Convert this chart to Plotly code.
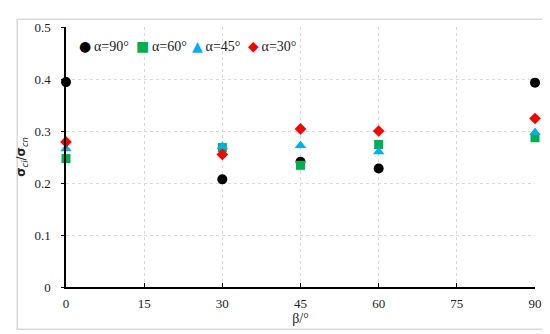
import plotly.graph_objects as go

beta = [0, 30, 45, 60, 90]
a90 = [0.394, 0.207, 0.241, 0.228, 0.393]
a60 = [0.247, 0.268, 0.234, 0.274, 0.287]
a45 = [0.266, 0.270, 0.272, 0.260, 0.297]
a30 = [0.279, 0.255, 0.304, 0.300, 0.324]

names = ["α=90°", "α=60°", "α=45°", "α=30°"]
series = [a90, a60, a45, a30]
colors = ["#000000", "#00b050", "#00b0f0", "#ff0000"]
symbols = ["circle", "square", "triangle-up", "diamond"]
glyphs = ["●", "■", "▲", "◆"]
sizes = [10, 9, 10, 9]

SERIF = "Times New Roman"

fig = go.Figure()
for n, s, c, m, sz in zip(names, series, colors, symbols, sizes):
    fig.add_trace(go.Scatter(x=beta, y=s, mode="markers", name=n, cliponaxis=False,
                             marker=dict(color=c, symbol=m, size=sz, line=dict(width=0))))

L, R, T, B = 56, 23, 14, 55
W, H = 550, 334
pw, ph = W - L - R, H - T - B

def px(x):
    return (x - L) / pw

def py(y):
    return (H - B - y) / ph

fig.add_shape(type="rect", xref="paper", yref="paper",
              x0=px(7), x1=px(543), y0=py(322), y1=py(6),
              line=dict(color="#d9d9d9", width=1.5), layer="below")

# legend as text
leg_x = [67, 124, 181, 237]
for n, c, g, lx in zip(names, colors, glyphs, leg_x):
    fig.add_annotation(xref="paper", yref="paper", x=px(lx), y=py(33),
                       xanchor="left", yanchor="middle", showarrow=False,
                       text=f"<span style='color:{c};font-family:DejaVu Sans;font-size:14px'>{g}</span>\u2009{n}",
                       font=dict(family=SERIF, size=14, color="#222"))

fig.update_layout(
    width=W, height=H,
    margin=dict(l=L, r=R, t=T, b=B),
    paper_bgcolor="white", plot_bgcolor="white",
    font=dict(family=SERIF, size=13, color="#222"),
    showlegend=False,
    xaxis=dict(range=[0, 90], tickvals=[0, 15, 30, 45, 60, 75, 90],
               showline=True, linecolor="black", linewidth=1.5,
               ticks="inside", ticklen=4, tickcolor="black",
               showgrid=True, gridcolor="#d9d9d9", griddash="dot", gridwidth=1,
               zeroline=False, tickfont=dict(family=SERIF, size=13),
               ticklabelstandoff=4,
               title=dict(text="β/°", font=dict(family=SERIF, size=14), standoff=0)),
    yaxis=dict(range=[0, 0.5], tickvals=[0, 0.1, 0.2, 0.3, 0.4, 0.5],
               ticktext=["0", "0.1", "0.2", "0.3", "0.4", "0.5"],
               showline=True, linecolor="black", linewidth=1.5,
               ticks="outside", ticklen=3, tickcolor="black",
               showgrid=True, gridcolor="#d9d9d9", griddash="dot", gridwidth=1,
               zeroline=False, tickfont=dict(family=SERIF, size=13),
               ticklabelstandoff=8,
               title=dict(text="<b>σ</b><sub><i>ci</i></sub>/<b>σ</b><sub><i>cn</i></sub>",
                          font=dict(family="DejaVu Sans", size=12), standoff=6)),
)

fig.write_html("out.html")
